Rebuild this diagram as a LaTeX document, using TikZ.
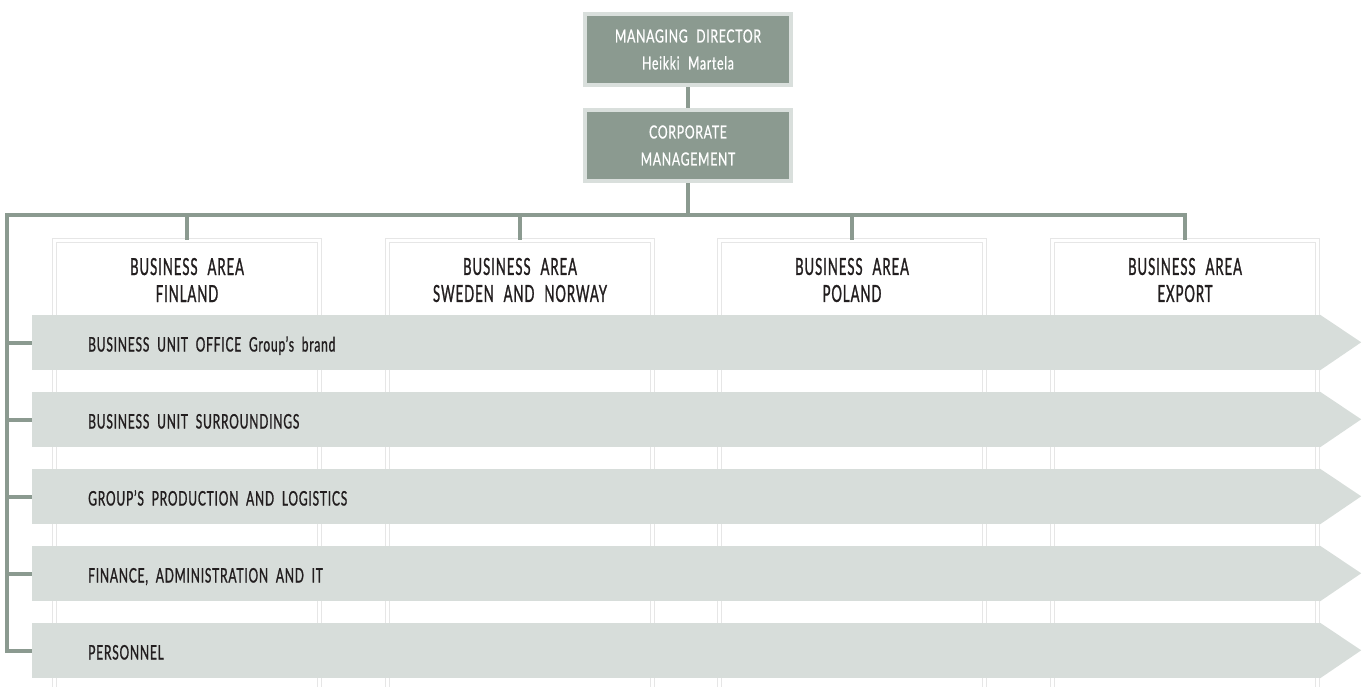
\documentclass[tikz,border=0pt]{standalone}
\usepackage{fontspec}
\setmainfont{Lato}
\newfontfamily\headfont[FakeStretch=0.56,FakeBold=1,LetterSpace=4,WordSpace=2.3]{Lato}
\newfontfamily\barfont[FakeStretch=0.60,FakeBold=1,LetterSpace=4,WordSpace=2.0]{Lato}
\newfontfamily\topfont[FakeStretch=0.68,FakeBold=0.8,LetterSpace=4,WordSpace=2.2]{Lato}
\definecolor{sage}{HTML}{8B9A90}
\definecolor{sagelight}{HTML}{D9DFDC}
\definecolor{barfill}{HTML}{D7DDDA}
\definecolor{colline}{HTML}{E6E6E6}
\definecolor{ink}{HTML}{221E1F}
\begin{document}
\begin{tikzpicture}[x=1pt,y=-1pt,
  topbox/.style={draw=sagelight, line width=4pt, fill=sage, minimum width=206pt,
    minimum height=71pt, inner sep=0pt, text=white, align=center,
    font=\topfont\fontsize{18}{27}\selectfont},
  colbox/.style={draw=colline, line width=1pt, double=white, double distance=2.4pt,
    minimum width=265pt, minimum height=460pt, inner sep=0pt},
  colhead/.style={text=ink, align=center, inner sep=0pt,
    font=\headfont\fontsize{23.5}{27}\selectfont},
  barbody/.style={fill=barfill, minimum width=1288pt, minimum height=55pt, inner sep=0pt},
  bartext/.style={text=ink, anchor=base west, inner sep=0pt,
    font=\barfont\fontsize{20}{24}\selectfont},
  conn/.style={draw=sage, line width=4pt, line join=miter}
]
\useasboundingbox (0,0) rectangle (1367,686);

% column frames (they run off the bottom of the page)
\foreach \i/\cx in {1/187,2/520,3/852,4/1185}{
  \node[colbox, anchor=north] (c\i) at (\cx,240) {};
}
\node[colhead] (h1) at (187,280) {BUSINESS AREA\\FINLAND};
\node[colhead] (h2) at (520,280) {BUSINESS AREA\\SWEDEN AND NORWAY};
\node[colhead] (h3) at (852,280) {BUSINESS AREA\\POLAND};
\node[colhead] (h4) at (1185,280) {BUSINESS AREA\\EXPORT};

% horizontal process arrows
\foreach \i/\yc in {1/342.5,2/419.5,3/496.5,4/573.5,5/650.5}{
  \node[barbody] (b\i) at (676,\yc) {};
  \fill[barfill] (b\i.north east) -- ++(41,27.5) -- (b\i.south east) -- cycle;
}
\node[bartext] (t1) at (88,351.5) {BUSINESS UNIT OFFICE Group’s brand};
\node[bartext] (t2) at (88,428.5) {BUSINESS UNIT SURROUNDINGS};
\node[bartext] (t3) at (88,505.5) {GROUP’S PRODUCTION AND LOGISTICS};
\node[bartext] (t4) at (88,582.5) {FINANCE, ADMINISTRATION AND IT};
\node[bartext] (t5) at (88,659.5) {PERSONNEL};

% management boxes
\node[topbox] (md) at (688,49.5) {MANAGING DIRECTOR\\Heikki Martela};
\node[topbox] (cm) at (688,145.5) {CORPORATE\\MANAGEMENT};

% connectors
\coordinate (hl) at (7,215);
\draw[conn] (md.south) -- (cm.north);
\draw[conn] (cm.south) -- (cm.south |- hl);
\draw[conn] (c4.north) -- (c4.north |- hl) -- (hl) |- (b5.west);
\foreach \i in {1,2,3}{
  \draw[conn] (c\i.north |- hl) -- (c\i.north);
}
\foreach \i in {1,2,3,4}{
  \draw[conn] (hl |- b\i.west) -- (b\i.west);
}
\end{tikzpicture}
\end{document}
